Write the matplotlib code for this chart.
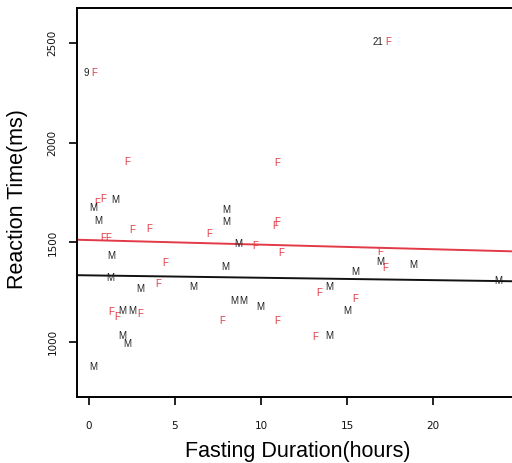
import matplotlib
matplotlib.use("Agg")
import matplotlib.pyplot as plt
import numpy as np

# Female participants (fasting hours, reaction time ms)
f_hours = [0.29, 17.4, 2.21, 0.47, 0.81, 0.81, 1.10, 2.50, 3.49, 4.42, 4.01, 1.28, 1.63, 2.97,
           10.93, 10.93, 10.81, 6.98, 9.65, 11.16, 7.73, 10.93, 16.92, 17.21, 13.37, 15.47, 13.14]
f_rt = [2350, 2505, 1905, 1700, 1720, 1520, 1520, 1560, 1565, 1395, 1290, 1150, 1125, 1140,
        1900, 1605, 1580, 1540, 1480, 1445, 1105, 1105, 1450, 1370, 1245, 1215, 1025]

# Male participants
m_hours = [0.23, 1.51, 0.52, 1.28, 1.22, 2.97, 1.92, 2.50, 1.92, 2.21, 0.23, 7.97, 7.97,
           8.66, 7.91, 6.05, 8.43, 8.95, 9.94, 16.92, 18.84, 15.47, 13.95, 14.99, 13.95, 23.78]
m_rt = [1675, 1715, 1610, 1430, 1320, 1265, 1155, 1155, 1030, 990, 875, 1665, 1605,
        1490, 1375, 1275, 1205, 1205, 1175, 1400, 1385, 1350, 1275, 1155, 1030, 1305]

# labelled outliers: (case id, index into the female series)
outlier_ids = ["9", "21"]
outlier_idx = [0, 1]

# fit lines (intercept, slope per hour)
f_fit = (1512, -2.3)
m_fit = (1335, -1.2)

RED = "#e23a46"
FONT = "Liberation Sans"

fig = plt.figure(figsize=(5.12, 4.63), dpi=100)
ax = fig.add_axes([0.150, 0.1425, 0.864, 0.840])

for x, y in zip(f_hours, f_rt):
    ax.text(x, y, "F", color=RED, fontsize=7, ha="center", va="center",
            family=FONT, zorder=3)
for x, y in zip(m_hours, m_rt):
    ax.text(x, y, "M", color="#222222", fontsize=7, ha="center", va="center",
            family=FONT, zorder=3)
for lab, i in zip(outlier_ids, outlier_idx):
    ax.text(f_hours[i] - 0.3, f_rt[i], lab, color="#222222", fontsize=7,
            ha="right", va="center", family=FONT, zorder=3)

ax.axline((0, f_fit[0]), slope=f_fit[1], color=RED, lw=1.4, zorder=2)
ax.axline((0, m_fit[0]), slope=m_fit[1], color="#111111", lw=1.4, zorder=2)

ax.set_xlim(-0.7, 25)
ax.set_ylim(725, 2675)
ax.set_xticks([0, 5, 10, 15, 20])
ax.set_yticks([1000, 1500, 2000, 2500])
ax.tick_params(axis="both", direction="out", length=6, width=1.3, labelsize=7.5,
               colors="#111111")
ax.tick_params(axis="x", pad=11)
ax.tick_params(axis="y", pad=8)
for lab in ax.get_yticklabels():
    lab.set_rotation(90)
    lab.set_va("center")
for s in ax.spines.values():
    s.set_linewidth(1.4)
ax.spines["right"].set_visible(False)

ax.set_xlabel("Fasting Duration(hours)", fontsize=15.5, family=FONT)
ax.set_ylabel("Reaction Time(ms)", fontsize=15.5, family=FONT)
ax.xaxis.label.set_va("center")
ax.yaxis.label.set_va("center")
ax.xaxis.set_label_coords(0.50, -0.141)
ax.yaxis.set_label_coords(-0.133, 0.51)

fig.savefig("out.png", dpi=100)
